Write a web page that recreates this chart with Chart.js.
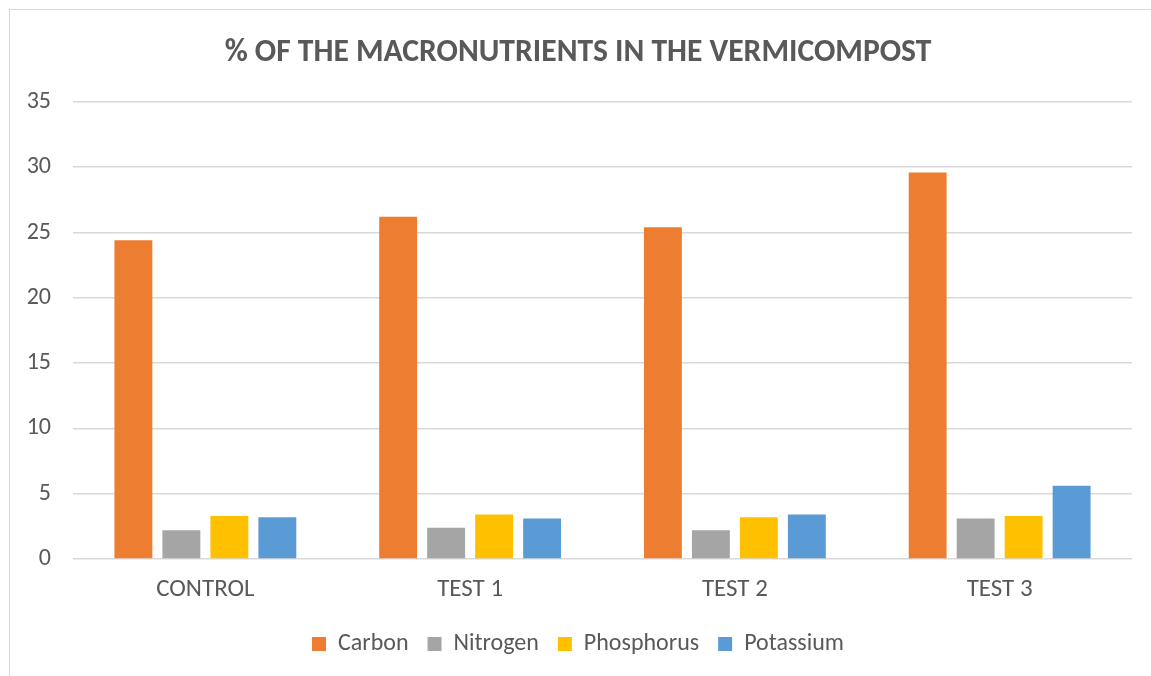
<!DOCTYPE html>
<html>
<head>
<meta charset="utf-8">
<script src="https://cdn.jsdelivr.net/npm/chart.js@4"></script>
<style>
  html, body { margin: 0; padding: 0; background: #fff; overflow: hidden; }
  #frame { position: absolute; left: 9px; top: 9px; width: 1160px; height: 700px; border: 1px solid #d9d9d9; box-sizing: border-box; }
  #wrap { position: absolute; left: 0; top: 0; width: 1151px; height: 676px; }
</style>
</head>
<body>
<div id="frame"></div>
<div id="wrap"><canvas id="chart" width="1151" height="676"></canvas></div>
<script>
// categories and series
const categories = ['CONTROL', 'TEST 1', 'TEST 2', 'TEST 3'];
const carbon     = [24.4, 26.2, 25.4, 29.6];
const nitrogen   = [2.2, 2.4, 2.2, 3.1];
const phosphorus = [3.3, 3.4, 3.2, 3.3];
const potassium  = [3.2, 3.1, 3.4, 5.6];
const yTicks     = [0, 5, 10, 15, 20, 25, 30, 35];

const FONT = 'Carlito, Lato, "Open Sans", sans-serif';
const GREY = '#595959';

const mk = (label, data, color) => ({
  label, data, backgroundColor: color, borderWidth: 0,
  categoryPercentage: 0.725, barPercentage: 0.79
});

new Chart(document.getElementById('chart'), {
  type: 'bar',
  data: {
    labels: categories,
    datasets: [
      mk('Carbon', carbon, '#ed7d31'),
      mk('Nitrogen', nitrogen, '#a5a5a5'),
      mk('Phosphorus', phosphorus, '#ffc000'),
      mk('Potassium', potassium, '#5b9bd5')
    ]
  },
  options: {
    responsive: false,
    animation: false,
    layout: { padding: { left: 24, right: 19, top: 34, bottom: 10 } },
    plugins: {
      title: {
        display: true,
        text: '% OF THE MACRONUTRIENTS IN THE VERMICOMPOST',
        color: GREY,
        font: { family: FONT, size: 31.6, weight: 'bold' },
        padding: { top: 0, bottom: 30 }
      },
      legend: {
        position: 'bottom',
        labels: {
          color: GREY, font: { family: FONT, size: 24 },
          boxWidth: 14, boxHeight: 14, padding: 19
        }
      },
      tooltip: { enabled: false }
    },
    scales: {
      x: {
        grid: { display: false },
        border: { display: false },
        ticks: { color: GREY, font: { family: FONT, size: 25 }, padding: 8 }
      },
      y: {
        min: 0, max: 35,
        afterBuildTicks: s => { s.ticks = yTicks.map(v => ({ value: v })); },
        afterFit: s => { s.width = 49; },
        grid: { color: '#d9d9d9', lineWidth: 1.5, drawTicks: false },
        border: { display: false },
        ticks: { color: GREY, font: { family: FONT, size: 24 }, padding: 22 }
      }
    }
  }
});
</script>
</body>
</html>
